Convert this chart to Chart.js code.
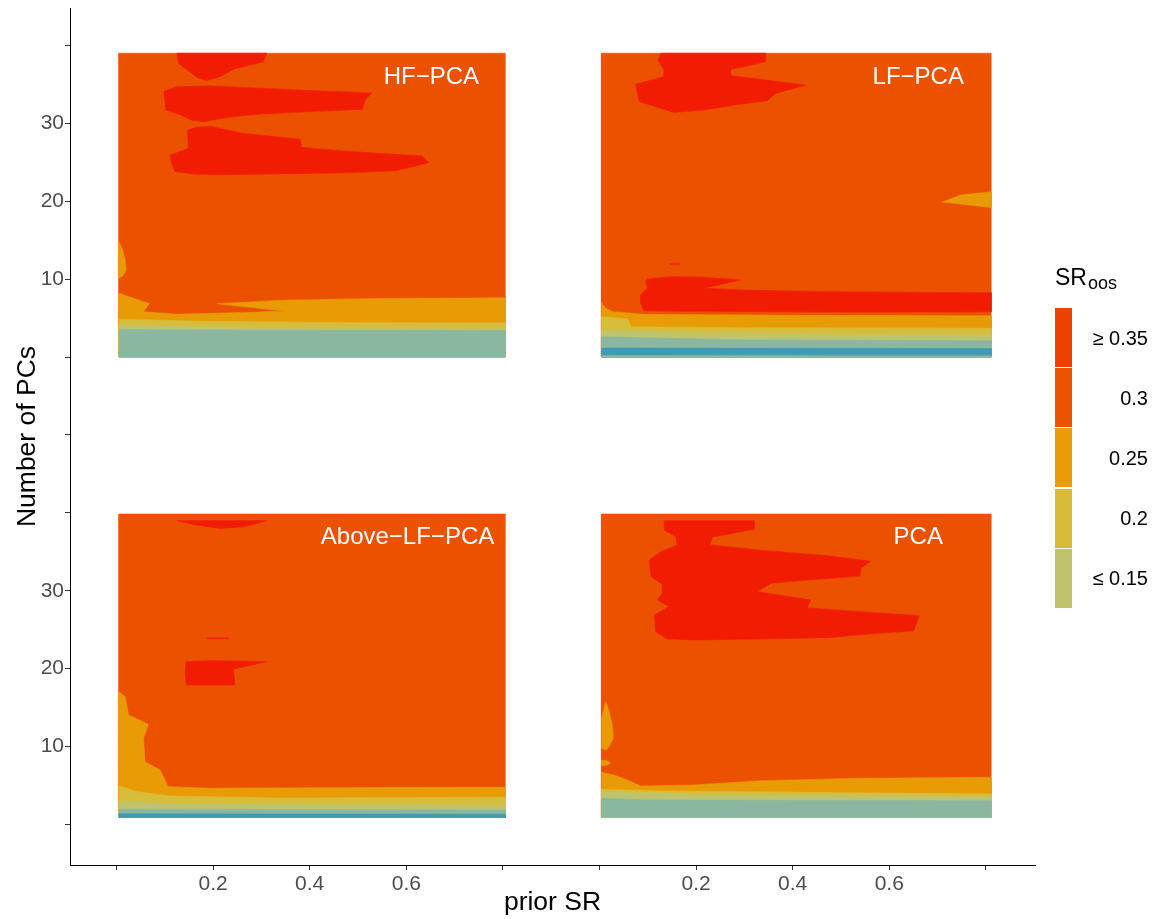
<!DOCTYPE html>
<html>
<head>
<meta charset="utf-8">
<script src="https://cdn.jsdelivr.net/npm/chart.js@4.4.0/dist/chart.umd.min.js"></script>
<style>
  html, body { margin: 0; padding: 0; background: #fff; }
  #wrap { position: relative; width: 1156px; height: 919px; font-family: "Liberation Sans", Arial, sans-serif; }
  #chart { position: absolute; left: 0; top: 0; }
  .lt { position: absolute; color: #000; white-space: nowrap; line-height: 1; }
  .key { position: absolute; left: 1055px; width: 17px; height: 59px; }
  .klab { position: absolute; right: 8px; font-size: 20px; line-height: 20px; color: #000; text-align: right; }
</style>
</head>
<body>
<div id="wrap">
  <canvas id="chart" width="1156" height="919"></canvas>
  <div id="legend"></div>
</div>
<script>
// facets, in drawing order: top-left, top-right, bottom-left, bottom-right
const panelNames = ['HF\u2212PCA', 'LF\u2212PCA', 'Above\u2212LF\u2212PCA', 'PCA'];
const panelSR = [[0.005, 0.805], [0.004, 0.811], [0.005, 0.805], [0.004, 0.811]];
const panelPCs = [[0, 39], [0, 39], [0.9, 39.85], [0.9, 39.85]];
const labelSR = [0.652, 0.66, 0.6025, 0.66];
const labelPCs = [35.9, 35.9, 36.8, 36.8];

// tick values on the shared axes (facets sit side by side on one scale)
const xTickVals = [0, 0.2, 0.4, 0.6, 0.8, 1.0, 1.2, 1.4, 1.6, 1.8];
const xTickLabels = ['', '0.2', '0.4', '0.6', '', '', '0.2', '0.4', '0.6', ''];
const yTickVals = [0, 10, 20, 30, 40, 50, 60, 70, 80, 90, 100];
const yTickLabels = ['', '10', '20', '30', '', '', '', '10', '20', '30', ''];

// legend
const legendLabels = ['\u2265 0.35', '0.3', '0.25', '0.2', '\u2264 0.15'];

// contour outlines, (prior SR, number of PCs)
// HF-PCA
const hfRed1 = [[0.125, 39], [0.128, 37.7], [0.145, 36.9], [0.169, 35.8], [0.187, 35.5], [0.215, 36.0], [0.245, 37.0], [0.304, 37.9], [0.311, 39]];
const hfRed2 = [[0.098, 34.1], [0.125, 34.7], [0.194, 34.8], [0.297, 34.5], [0.401, 34.2], [0.528, 33.9], [0.515, 33.0], [0.509, 31.8], [0.401, 31.5], [0.297, 31.2], [0.249, 30.9], [0.214, 30.6], [0.180, 30.2], [0.156, 30.4], [0.132, 31.1], [0.102, 31.7]];
const hfRed3 = [[0.147, 29.1], [0.166, 29.5], [0.194, 29.6], [0.263, 28.7], [0.381, 27.95], [0.383, 26.9], [0.470, 26.45], [0.539, 26.15], [0.632, 25.8], [0.647, 24.95], [0.577, 23.9], [0.470, 23.65], [0.332, 23.5], [0.207, 23.4], [0.159, 23.5], [0.121, 23.8], [0.114, 24.9], [0.111, 25.9], [0.149, 26.8]];
const hfBump = [[0.005, 14.8], [0.013, 13.7], [0.018, 12.5], [0.020, 11.2], [0.014, 10.5], [0.005, 10.1]];
const hfAmberTop = [[0.005, 8.2], [0.056, 7.1], [0.068, 6.9], [0.056, 5.8], [0.124, 5.5], [0.263, 5.7], [0.349, 5.9], [0.208, 6.85], [0.349, 7.3], [0.539, 7.5], [0.805, 7.6]];
const hfYellowTop = [[0.005, 4.85], [0.2, 4.55], [0.5, 4.42], [0.805, 4.4]];
const hfOliveTop = [[0.005, 4.1], [0.3, 3.75], [0.805, 3.6]];
const hfSageTop = [[0.005, 3.55], [0.3, 3.45], [0.805, 3.4]];

// LF-PCA
const lfRed1 = [[0.127, 39], [0.121, 38.1], [0.134, 36.8], [0.134, 36.0], [0.075, 35.0], [0.082, 32.8], [0.154, 31.4], [0.216, 31.7], [0.279, 32.35], [0.347, 32.9], [0.365, 33.85], [0.427, 34.9], [0.334, 35.65], [0.272, 36.1], [0.272, 36.9], [0.344, 37.9], [0.344, 39]];
const lfRed2 = [[0.099, 9.98], [0.147, 10.31], [0.216, 10.23], [0.292, 9.89], [0.216, 8.82], [0.299, 8.6], [0.472, 8.39], [0.610, 8.31], [0.811, 8.26], [0.811, 5.82], [0.610, 5.78], [0.403, 5.82], [0.196, 5.87], [0.092, 5.95], [0.085, 6.9], [0.085, 7.96], [0.099, 8.82], [0.096, 9.67]];
const lfRed3 = [[0.146, 11.98], [0.165, 11.98], [0.165, 11.9], [0.146, 11.9]];
const lfWedge = [[0.710, 19.9], [0.748, 20.8], [0.811, 21.2], [0.811, 19.2]];
const lfAmberTop = [[0.004, 7.0], [0.012, 6.3], [0.027, 5.82], [0.092, 5.48], [0.4, 5.35], [0.811, 5.3]];
const lfYellowTop = [[0.004, 5.18], [0.058, 4.88], [0.065, 3.9], [0.3, 3.75], [0.811, 3.69]];
const lfOliveTop = [[0.004, 3.47], [0.2, 3.05], [0.5, 2.9], [0.811, 2.83]];
const lfSageTop = [[0.004, 2.6], [0.3, 2.2], [0.811, 2.1]];
const lfBlueTop = [[0.004, 1.15], [0.811, 1.1]];
const lfSage2Top = [[0.004, 0.2], [0.811, 0.17]];

// Above-LF-PCA
const abRed1 = [[0.125, 39.0], [0.166, 38.45], [0.214, 38.0], [0.263, 38.2], [0.311, 39.0]];
const abRed2 = [[0.187, 23.95], [0.231, 23.95], [0.231, 23.85], [0.187, 23.85]];
const abRed3 = [[0.144, 20.9], [0.194, 21.03], [0.311, 20.9], [0.242, 19.96], [0.245, 17.9], [0.145, 17.9], [0.142, 19.4]];
const abAmberTop = [[0.005, 17.05], [0.018, 16.4], [0.025, 14.05], [0.066, 12.86], [0.056, 11.06], [0.059, 8.06], [0.09, 6.99], [0.107, 4.85], [0.194, 4.64], [0.401, 4.72], [0.805, 4.77]];
const abYellowTop = [[0.005, 4.94], [0.042, 4.21], [0.111, 3.66], [0.332, 3.4], [0.805, 3.49]];
const abOliveTop = [[0.005, 3.02], [0.124, 2.63], [0.805, 2.46]];
const abSageTop = [[0.005, 1.95], [0.805, 1.86]];
const abBlueTop = [[0.005, 1.37], [0.805, 1.33]];

// PCA
const pcRed = [[0.134, 39.0], [0.320, 39.0], [0.320, 37.9], [0.234, 36.9], [0.229, 35.9], [0.334, 35.2], [0.472, 34.5], [0.562, 33.8], [0.541, 32.9], [0.539, 31.9], [0.437, 31.4], [0.355, 30.96], [0.327, 29.9], [0.437, 28.8], [0.430, 27.8], [0.541, 27.3], [0.662, 26.8], [0.650, 24.84], [0.575, 24.54], [0.472, 23.98], [0.334, 23.81], [0.196, 23.68], [0.140, 23.81], [0.116, 24.75], [0.114, 26.89], [0.144, 27.96], [0.120, 28.82], [0.130, 29.68], [0.130, 30.83], [0.107, 31.81], [0.103, 33.95], [0.127, 35.01], [0.161, 35.87], [0.158, 36.94], [0.134, 37.8]];
const pcSpike = [[0.004, 13.6], [0.013, 15.8], [0.020, 14.5], [0.0265, 12.8], [0.0286, 11.1], [0.020, 10.0], [0.013, 9.56], [0.004, 9.78]];
const pcDiamond = [[0.004, 8.28], [0.016, 8.15], [0.023, 7.89], [0.016, 7.64], [0.004, 7.51]];
const pcAmberTop = [[0.004, 6.7], [0.030, 6.35], [0.058, 5.71], [0.085, 4.94], [0.196, 5.07], [0.334, 5.62], [0.541, 5.93], [0.811, 6.06]];
const pcYellowTop = [[0.004, 4.52], [0.13, 4.3], [0.811, 3.91]];
const pcOliveTop = [[0.004, 4.2], [0.2, 3.8], [0.811, 3.6]];
const pcSageTop = [[0.004, 3.36], [0.1, 3.15], [0.811, 3.05]];

// colours
const colors = {
  red: '#F11C02', orange: '#EC5100', amber: '#E99B06', yellow: '#D8BD3B',
  olive: '#BEC46E', sage: '#8BB7A0', blue: '#3E9AB5'
};
const legendColors = ['#EE4100', '#EB5300', '#E99C08', '#D8BC38', '#BFC46C'];

// facet placement on the shared scales
const offX = [0, 1, 0, 1];
const offY = [60, 60, 0, 0];
const X_MIN = -0.0963, X_MAX = 1.9017;
const Y_MIN = -5.2, Y_MAX = 104.8;
const FONT = '"Liberation Sans", Arial, sans-serif';

const layers = [];
function toXY(p, pts) {
  const out = pts.map(([sr, pc]) => ({ x: sr + offX[p], y: pc + offY[p] }));
  out.push(out[0]);
  return out;
}
function blob(p, col, pts) { layers.push({ col, data: toXY(p, pts) }); }
function band(p, col, top) {
  const bottom = panelPCs[p][0];
  const last = top[top.length - 1], first = top[0];
  blob(p, col, top.concat([[last[0], bottom], [first[0], bottom]]));
}
function base(p) {
  const [x0, x1] = panelSR[p], [y0, y1] = panelPCs[p];
  blob(p, 'orange', [[x0, y0], [x1, y0], [x1, y1], [x0, y1]]);
}

base(0);
blob(0, 'amber', hfBump);
band(0, 'amber', hfAmberTop); band(0, 'yellow', hfYellowTop);
band(0, 'olive', hfOliveTop); band(0, 'sage', hfSageTop);
blob(0, 'red', hfRed1); blob(0, 'red', hfRed2); blob(0, 'red', hfRed3);

base(1);
blob(1, 'amber', lfWedge);
band(1, 'amber', lfAmberTop); band(1, 'yellow', lfYellowTop);
band(1, 'olive', lfOliveTop); band(1, 'sage', lfSageTop);
band(1, 'blue', lfBlueTop); band(1, 'sage', lfSage2Top);
blob(1, 'red', lfRed1); blob(1, 'red', lfRed2); blob(1, 'red', lfRed3);

base(2);
band(2, 'amber', abAmberTop); band(2, 'yellow', abYellowTop);
band(2, 'olive', abOliveTop); band(2, 'sage', abSageTop); band(2, 'blue', abBlueTop);
blob(2, 'red', abRed1); blob(2, 'red', abRed2); blob(2, 'red', abRed3);

base(3);
blob(3, 'amber', pcSpike); blob(3, 'amber', pcDiamond);
band(3, 'amber', pcAmberTop); band(3, 'yellow', pcYellowTop);
band(3, 'olive', pcOliveTop); band(3, 'sage', pcSageTop);
blob(3, 'red', pcRed);

const datasets = layers.map((l, i) => ({
  data: l.data,
  showLine: true,
  fill: 'shape',
  backgroundColor: colors[l.col],
  borderColor: colors[l.col],
  borderWidth: 0.6,
  pointRadius: 0,
  tension: 0,
  order: layers.length - i
}));

const facetLabels = {
  id: 'facetLabels',
  afterDatasetsDraw(chart) {
    const { ctx, scales: { x, y } } = chart;
    ctx.save();
    ctx.font = '24px ' + FONT;
    ctx.fillStyle = '#fff';
    ctx.textAlign = 'center';
    ctx.textBaseline = 'middle';
    panelNames.forEach((name, p) => {
      ctx.fillText(name, x.getPixelForValue(labelSR[p] + offX[p]), y.getPixelForValue(labelPCs[p] + offY[p]));
    });
    ctx.restore();
  }
};

new Chart(document.getElementById('chart'), {
  type: 'scatter',
  data: { datasets },
  options: {
    responsive: false,
    animation: false,
    events: [],
    layout: { padding: { top: 8, right: 121, bottom: 0, left: 0 } },
    plugins: { legend: { display: false }, tooltip: { enabled: false } },
    scales: {
      x: {
        type: 'linear', min: X_MIN, max: X_MAX,
        afterBuildTicks: s => { s.ticks = xTickVals.map(v => ({ value: v })); },
        afterFit: s => { s.height = 54; s.paddingLeft = 0; s.paddingRight = 0; },
        ticks: { autoSkip: false, maxRotation: 0, padding: 2, color: '#4D4D4D',
          font: { family: FONT, size: 21 }, callback: (v, i) => xTickLabels[i] },
        grid: { drawOnChartArea: false, drawTicks: true, tickLength: 5, tickColor: '#333', tickWidth: 1 },
        border: { display: true, color: '#000', width: 1 },
        title: { display: true, text: 'prior SR', color: '#000', font: { family: FONT, size: 26.5 }, padding: { top: 0, bottom: 0 } }
      },
      y: {
        type: 'linear', min: Y_MIN, max: Y_MAX,
        afterBuildTicks: s => { s.ticks = yTickVals.map(v => ({ value: v })); },
        afterFit: s => { s.width = 70; s.paddingTop = 0; s.paddingBottom = 0; },
        ticks: { autoSkip: false, padding: 1, color: '#4D4D4D',
          font: { family: FONT, size: 21 }, callback: (v, i) => yTickLabels[i] },
        grid: { drawOnChartArea: false, drawTicks: true, tickLength: 5, tickColor: '#333', tickWidth: 1 },
        border: { display: true, color: '#000', width: 1 },
        title: { display: true, text: 'Number of PCs', color: '#000', font: { family: FONT, size: 26.5 }, padding: { top: 12, bottom: 0 } }
      }
    }
  },
  plugins: [facetLabels]
});

// colour-bar legend
const legend = document.getElementById('legend');
let html = '<div class="lt" style="left:1055px;top:266px;font-size:23px;">SR</div>' +
  '<div class="lt" style="left:1088px;top:274px;font-size:18px;">oos</div>';
legendColors.forEach((c, i) => {
  const top = 308 + i * 60.2;
  html += '<div class="key" style="top:' + top + 'px;background:' + c + ';"></div>';
  html += '<div class="klab" style="top:' + (top + 19.5) + 'px;">' + legendLabels[i] + '</div>';
});
legend.innerHTML = html;
</script>
</body>
</html>
